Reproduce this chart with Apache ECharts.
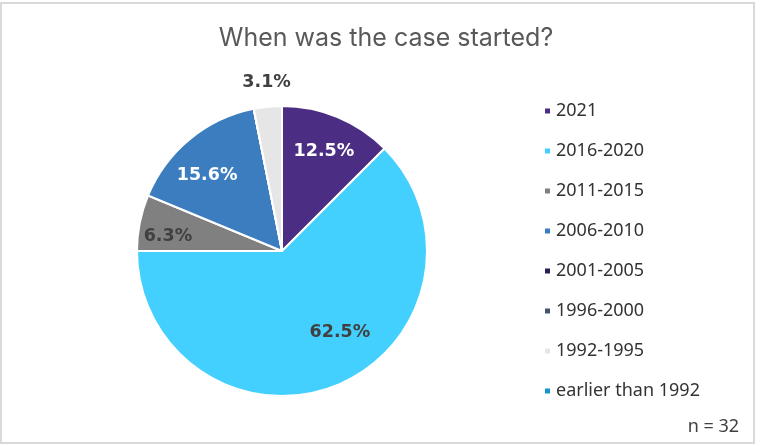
<!DOCTYPE html>
<html>
<head>
<meta charset="utf-8">
<script src="https://cdn.jsdelivr.net/npm/echarts@6/dist/echarts.min.js"></script>
<style>
  html, body { margin: 0; padding: 0; background: #fff; }
  #chart { width: 763px; height: 446px; }
</style>
</head>
<body>
<div id="chart"></div>
<script>
// when the case was started, n = 32
const periods = ['2021', '2016-2020', '2011-2015', '2006-2010', '2001-2005', '1996-2000', '1992-1995', 'earlier than 1992'];
const counts = [4, 20, 2, 5, 0, 0, 1, 0];
const colors = ['#4B2E83', '#43D0FF', '#808080', '#3C7DC0', '#2B1E56', '#44546A', '#E7E6E6', '#1497C8'];
const labelColors = ['#fff', '#404040', '#404040', '#fff', '#404040', '#404040', '#404040', '#404040'];
// nudges from the inside-label spot, like Excel's best fit
const labelOffsets = [[13, -30], [29, 12], [-40, 0], [-27, -17], [0, 0], [0, 0], [-8, -93], [0, 0]];

const total = counts.reduce((a, b) => a + b, 0);

const chart = echarts.init(document.getElementById('chart'));

const pieData = periods.map((name, i) => ({
  name: name,
  value: counts[i],
  itemStyle: { color: colors[i] },
  label: {
    show: counts[i] > 0,
    color: labelColors[i],
    offset: labelOffsets[i]
  }
}));

chart.setOption({
  backgroundColor: '#fff',
  animation: false,
  title: {
    text: 'When was the case started?',
    left: 381,
    textAlign: 'center',
    top: 21,
    textStyle: { fontFamily: 'Inter', fontWeight: 'normal', fontSize: 25, color: '#595959' }
  },
  legend: {
    orient: 'vertical',
    left: 543,
    top: 101,
    padding: 0,
    itemWidth: 7,
    itemHeight: 7,
    itemGap: 20,
    icon: 'rect',
    data: periods,
    textStyle: { fontFamily: 'Noto Sans', fontSize: 18, color: '#333', lineHeight: 20, padding: [0, 0, 0, 0] }
  },
  graphic: [
    {
      type: 'rect',
      shape: { x: 1, y: 3, width: 753, height: 440 },
      style: { fill: 'none', stroke: '#D9D9D9', lineWidth: 2 },
      silent: true
    },
    {
      type: 'text',
      right: 24,
      top: 418,
      style: { text: 'n = 32', font: '18px "Noto Sans"', fill: '#404040' }
    }
  ],
  series: [{
    type: 'pie',
    center: [282, 251],
    radius: 145,
    startAngle: 90,
    clockwise: true,
    avoidLabelOverlap: false,
    itemStyle: { borderColor: '#fff', borderWidth: 2 },
    label: {
      position: 'inside',
      fontFamily: 'DejaVu Sans',
      fontWeight: 'bold',
      fontSize: 17.5,
      formatter: p => (p.value / total * 100).toFixed(1) + '%'
    },
    labelLine: { show: false },
    emphasis: { disabled: true },
    data: pieData
  }]
});
</script>
</body>
</html>
